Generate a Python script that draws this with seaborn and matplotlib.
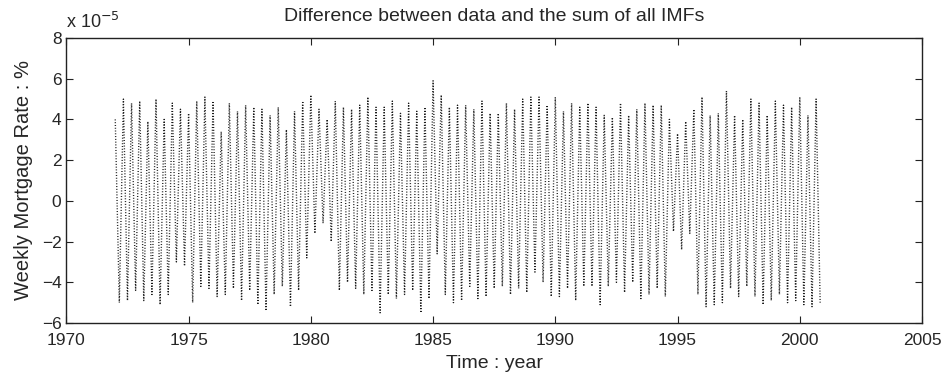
import numpy as np
import pandas as pd
import matplotlib
matplotlib.use("Agg")
import matplotlib.pyplot as plt
import seaborn as sns

# Residual between data and the sum of all IMFs, in units of 1e-5 %.
# Oscillation extremes, three cycles per year, 1972-2000.
start_year = 1972.0
peaks = [
    4.0, 5.0, 4.8,  4.9, 3.9, 5.0,  4.0, 4.8, 4.5,  4.3, 4.9, 5.1,
    4.9, 3.4, 4.8,  4.4, 4.7, 4.6,  4.5, 4.2, 4.6,  3.5, 4.4, 4.9,
    5.2, 4.5, 4.0,  4.9, 4.6, 4.5,  4.7, 5.1, 4.6,  4.6, 4.9, 4.3,
    4.8, 4.4, 4.6,  5.9, 5.2, 4.6,  4.7, 4.7, 4.5,  4.9, 4.3, 4.3,
    4.8, 4.5, 5.0,  5.1, 5.1, 4.7,  5.1, 4.4, 4.8,  4.6, 4.8, 4.6,
    4.2, 4.1, 4.8,  4.2, 4.5, 4.8,  4.7, 4.7, 4.0,  3.3, 3.9, 4.5,
    5.1, 4.2, 4.3,  5.4, 4.2, 4.0,  5.0, 4.8, 4.2,  4.9, 4.7, 4.6,
    5.1, 4.2, 5.0,
]
troughs = [
    -5.0, -4.9, -4.4,  -4.9, -4.6, -5.1,  -4.6, -3.0, -3.2,  -5.0, -4.2, -4.3,
    -4.7, -4.6, -4.3,  -4.9, -4.4, -5.1,  -5.4, -4.6, -4.2,  -5.2, -4.4, -2.8,
    -1.6, -1.1, -2.0,  -4.4, -4.0, -4.3,  -4.6, -4.4, -5.5,  -4.6, -4.8, -4.6,
    -4.4, -5.5, -4.8,  -2.6, -4.6, -5.0,  -4.9, -4.2, -4.8,  -4.7, -4.3, -4.2,
    -4.6, -4.3, -4.5,  -3.5, -4.0, -4.7,  -4.7, -4.3, -4.9,  -4.2, -4.2, -5.1,
    -4.2, -4.0, -4.5,  -4.0, -4.8, -4.6,  -4.3, -4.7, -1.5,  -2.4, -1.6, -4.6,
    -5.2, -5.1, -5.0,  -4.3, -4.7, -4.2,  -4.7, -5.1, -4.9,  -4.6, -5.0, -4.9,
    -5.1, -5.2, -5.0,
]

# peaks and troughs alternate, half a cycle apart
t_peak = start_year + np.arange(len(peaks)) / 3.0
t_trough = t_peak + 1.0 / 6.0
df = pd.DataFrame({
    "year": np.column_stack([t_peak, t_trough]).ravel(),
    "resid": np.column_stack([peaks, troughs]).ravel(),
})

sns.set_style("ticks")
plt.rcParams["font.family"] = ["Liberation Sans", "DejaVu Sans"]
plt.rcParams["xtick.direction"] = "in"
plt.rcParams["ytick.direction"] = "in"

fig = plt.figure(figsize=(9.48, 3.82), dpi=100)
ax = fig.add_axes([0.070, 0.1545, 0.9026, 0.746])

sns.lineplot(data=df, x="year", y="resid", ax=ax, color="#1a1a1a",
             linewidth=1.0, linestyle=(0, (0.7, 1.3)), sort=False, estimator=None)

ax.set_xlim(1970, 2005)
ax.set_ylim(-6, 8)
ax.set_xticks(range(1970, 2006, 5))
ax.set_yticks(range(-6, 9, 2))
ax.set_yticklabels(["\u22126", "\u22124", "\u22122", "0", "2", "4", "6", "8"])
ax.tick_params(axis="both", labelsize=12.5, length=5, width=0.8,
               top=True, right=True, color="#222222")
ax.tick_params(axis="x", pad=7)
for s in ax.spines.values():
    s.set_linewidth(1.0)
    s.set_color("#222222")

ax.set_title("Difference between data and the sum of all IMFs", fontsize=14, pad=12)
ax.set_xlabel("Time : year", fontsize=14, labelpad=5)
ax.set_ylabel("Weekly Mortgage Rate : %", fontsize=14.5, labelpad=6)
ax.text(0.0, 1.02, r"x 10$^{-5}$", transform=ax.transAxes, fontsize=13,
        ha="left", va="bottom")

fig.savefig("out.png", dpi=100)
